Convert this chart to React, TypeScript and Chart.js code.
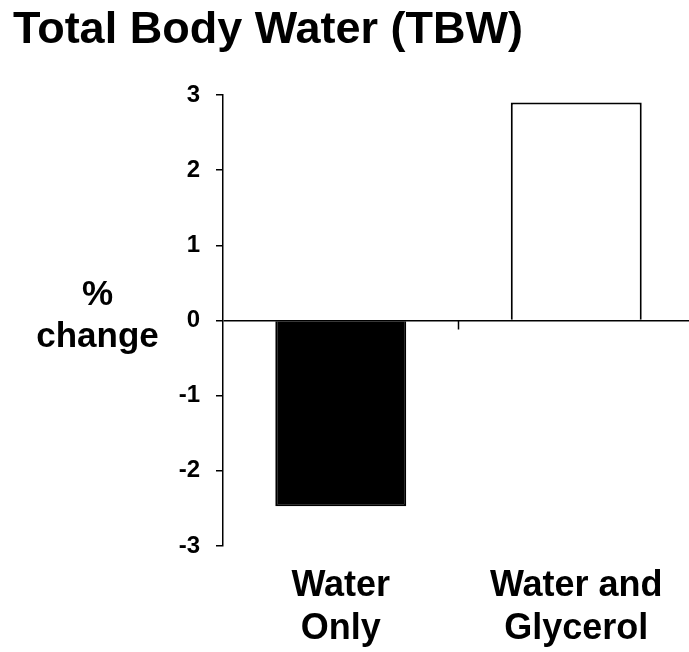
import React, { useEffect, useRef } from "react";
import { Chart, registerables } from "chart.js";

Chart.register(...registerables);

const TITLE = "Total Body Water (TBW)";
const CATEGORIES = [["Water", "Only"], ["Water and", "Glycerol"]];
const VALUES = [-2.47, 2.9];
const BAR_FILLS = ["#000000", "#ffffff"];
const Y_MIN = -3;
const Y_MAX = 3;
const Y_STEP = 1;
const Y_TITLE = ["%", "change"];

const FONT = "'Liberation Sans', Arial, Helvetica, sans-serif";

const extrasPlugin = {
  id: "extras",
  afterDraw(chart: any) {
    const { ctx } = chart;
    const x = chart.scales.x;
    const y = chart.scales.y;
    const y0 = y.getPixelForValue(0);
    ctx.save();
    // category divider tick below the zero line
    const mid = (x.getPixelForValue(0) + x.getPixelForValue(1)) / 2;
    ctx.strokeStyle = "#000";
    ctx.lineWidth = 1.5;
    ctx.beginPath();
    ctx.moveTo(mid, y0);
    ctx.lineTo(mid, y0 + 9);
    ctx.stroke();
    // horizontal y-axis title
    ctx.fillStyle = "#000";
    ctx.font = `bold 35px ${FONT}`;
    ctx.textAlign = "center";
    ctx.textBaseline = "alphabetic";
    const cx = y.right - 125.5;
    ctx.fillText(Y_TITLE[0], cx, y0 - 15.5);
    ctx.fillText(Y_TITLE[1], cx, y0 + 26.5);
    ctx.restore();
  },
};

export default function App() {
  const ref = useRef<HTMLCanvasElement | null>(null);

  useEffect(() => {
    document.body.style.margin = "0";
    const canvas = ref.current;
    if (!canvas) return;
    const chart = new Chart(canvas, {
      type: "bar",
      data: {
        labels: CATEGORIES,
        datasets: [
          {
            data: VALUES,
            backgroundColor: BAR_FILLS,
            borderColor: "#000",
            borderWidth: 2,
            barPercentage: 0.556,
            categoryPercentage: 1,
          },
        ],
      },
      options: {
        responsive: false,
        animation: false,
        devicePixelRatio: 1,
        layout: { padding: { left: 13, right: 0, top: 0, bottom: 0 } },
        plugins: {
          legend: { display: false },
          tooltip: { enabled: false },
          title: {
            display: true,
            text: TITLE,
            align: "start",
            color: "#000",
            font: { family: FONT, size: 45, weight: "bold", lineHeight: 1.2 },
            padding: { top: 4, bottom: 37 },
          },
        },
        scales: {
          x: {
            afterFit: (s: any) => {
              s.height = 106;
            },
            grid: { display: false },
            border: { display: false },
            ticks: {
              color: "#000",
              font: { family: FONT, size: 36, weight: "bold", lineHeight: 1.2 },
              padding: 10,
              maxRotation: 0,
              autoSkip: false,
            },
          },
          y: {
            min: Y_MIN,
            max: Y_MAX,
            afterFit: (s: any) => {
              s.width = 210;
            },
            border: { display: true, color: "#000", width: 1.5 },
            grid: {
              color: (c: any) => (c.tick && c.tick.value === 0 ? "#000" : "rgba(0,0,0,0)"),
              tickColor: "#000",
              lineWidth: 1.5,
              tickLength: 7,
              drawTicks: true,
            },
            ticks: {
              stepSize: Y_STEP,
              color: "#000",
              padding: 16,
              font: { family: FONT, size: 24, weight: "bold" },
            },
          },
        },
      },
      plugins: [extrasPlugin],
    });
    return () => chart.destroy();
  }, []);

  return (
    <div style={{ width: 689, height: 652, overflow: "hidden", background: "#fff" }}>
      <canvas ref={ref} width={694} height={652} style={{ display: "block" }} />
    </div>
  );
}
